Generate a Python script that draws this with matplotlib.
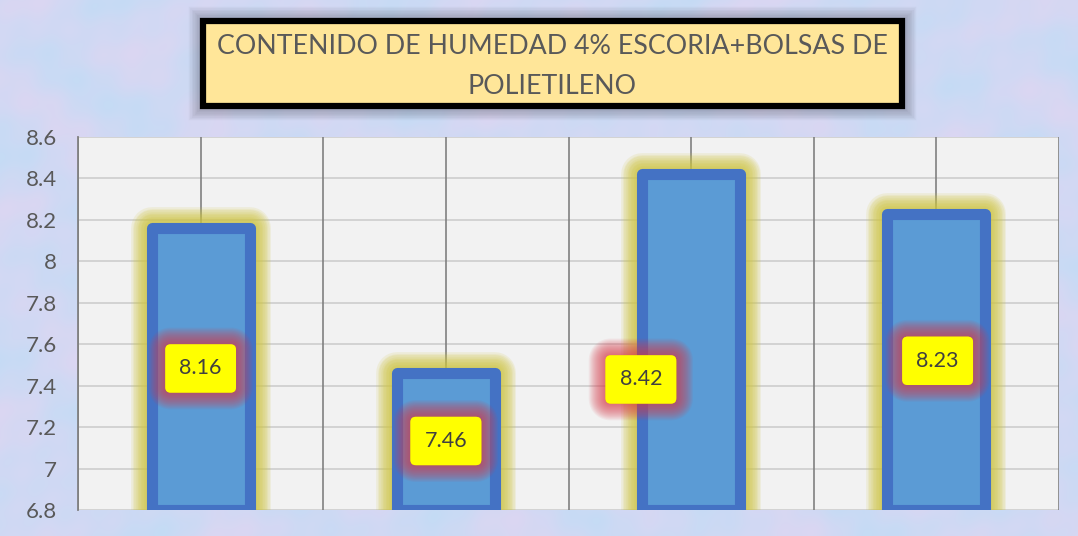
import numpy as np
import matplotlib
matplotlib.use("Agg")
import matplotlib.pyplot as plt
import matplotlib.patheffects as pe
from matplotlib.patches import FancyBboxPatch

# ---- data ----
categories = ["1", "2", "3", "4"]
values = [8.16, 7.46, 8.42, 8.23]
value_labels = ["8.16", "7.46", "8.42", "8.23"]
ytick_values = [6.8, 7.0, 7.2, 7.4, 7.6, 7.8, 8.0, 8.2, 8.4, 8.6]
ytick_labels = ["6.8", "7", "7.2", "7.4", "7.6", "7.8", "8", "8.2", "8.4", "8.6"]
title_lines = ["CONTENIDO DE HUMEDAD 4% ESCORIA+BOLSAS DE", "POLIETILENO"]

# ---- layout (label placement, not data) ----
label_dx = [0.0, 0.0, -0.205, 0.005]
label_y = [7.483, 7.133, 7.43, 7.52]
title_line_y = [47, 86]

W, H = 1078, 536
fig = plt.figure(figsize=(W / 100, H / 100), dpi=100)

# textured pastel background (deterministic)
bg = fig.add_axes([0, 0, 1, 1], zorder=-10)
yy, xx = np.mgrid[0:H, 0:W]
t = (np.sin(xx / 23.0 + np.sin(yy / 31.0) * 2) + np.sin(yy / 17.0 + np.cos(xx / 41.0) * 2)
     + 0.6 * np.sin((xx + yy) / 9.0) * np.cos((xx - yy) / 13.0))
t = (t - t.min()) / (t.max() - t.min())
base = np.array([0.77, 0.86, 0.96])
pink = np.array([0.86, 0.84, 0.95])
img = base[None, None, :] * (1 - t[..., None]) + pink[None, None, :] * t[..., None]
bg.imshow(img, aspect="auto", extent=[0, 1, 0, 1])
bg.set_axis_off()

ax = fig.add_axes([78 / W, 1 - 510 / H, (1059 - 78) / W, (510 - 137) / H])
ax.set_facecolor("#f2f2f2")
n = len(values)
x = np.arange(n)
ax.set_xlim(-0.5, n - 0.5)
ax.set_ylim(6.8, 8.6)

# gridlines
for yv in ytick_values:
    ax.axhline(yv, color="#d0d0d0", lw=1.3, zorder=0.5)
for xv in np.arange(-0.5, n - 0.5 + 0.01, 0.5):
    ax.axvline(xv, color="#808080", lw=1.2, zorder=0.6)

glow = [pe.Stroke(linewidth=8 + 2.2 * k, foreground="#cfc640", alpha=0.14, joinstyle="round")
        for k in range(10, 0, -1)] + [pe.Normal()]
bars = ax.bar(x, [v - 6.8 for v in values], bottom=6.8, width=0.4,
              color="#5b9bd5", edgecolor="#4472c4", linewidth=8, zorder=2)
for b in bars:
    b.set_joinstyle("round")
    b.set_path_effects(glow)

lab_glow = [pe.Stroke(linewidth=1.6 * k, foreground="#d83a4a", alpha=0.07, joinstyle="round")
            for k in range(15, 0, -1)] + [pe.Normal()]
for i, (lab, v) in enumerate(zip(value_labels, values)):
    tx = ax.text(x[i] + label_dx[i], label_y[i], lab, ha="center", va="center",
                 fontsize=15.5, color="#404040", family="Lato", zorder=5,
                 bbox=dict(boxstyle="round,pad=0.66,rounding_size=0.25", fc="#ffff00", ec="none"))
    tx.get_bbox_patch().set_path_effects(lab_glow)

ax.set_yticks(ytick_values)
ax.set_yticklabels(ytick_labels, family="Lato", fontsize=16, color="#595959")
ax.tick_params(axis="y", length=0, pad=15)
ax.tick_params(axis="x", length=0, labelbottom=False)
for s in ["top", "right", "bottom"]:
    ax.spines[s].set_visible(False)
ax.spines["left"].set_color("#808080")
ax.spines["left"].set_linewidth(1.3)

# title box
tb = fig.add_axes([0, 0, 1, 1], zorder=10)
tb.set_xlim(0, W)
tb.set_ylim(H, 0)
tb.set_axis_off()
box = FancyBboxPatch((203, 21), 699, 85, boxstyle="square,pad=0", fc="#ffe699",
                     ec="black", lw=4.5,
                     path_effects=[pe.Stroke(linewidth=4.5 + 2 * k, foreground="#555566", alpha=0.05)
                                   for k in range(8, 0, -1)] + [pe.Normal()])
tb.add_patch(box)
for line, ly in zip(title_lines, title_line_y):
    tb.text(552, ly, line, ha="center", va="center", fontsize=19.3, color="#595959",
            family="Lato")

fig.savefig("out.png", dpi=100)
